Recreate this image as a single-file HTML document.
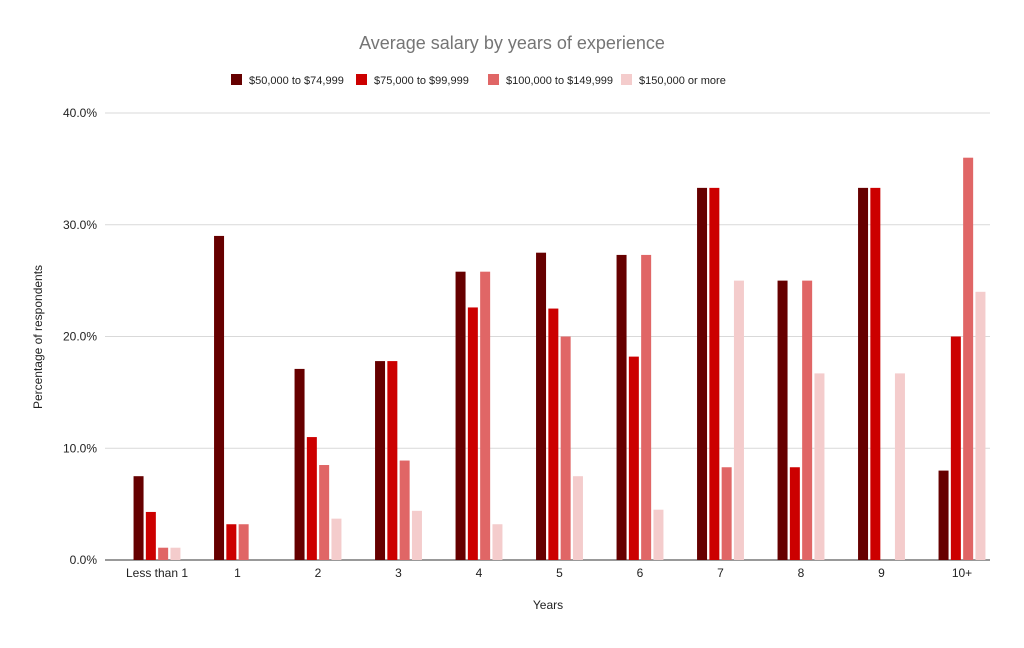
<!DOCTYPE html>
<html><head><meta charset="utf-8"><style>
body{margin:0;background:#fff;font-family:"Liberation Sans",Arial,sans-serif}
svg text{font-family:"Liberation Sans",Arial,sans-serif}
</style></head><body>
<svg id="chart" width="1024" height="643">
<text x="512" y="49" text-anchor="middle" font-size="18" fill="#757575">Average salary by years of experience</text>
<g id="legend"></g>
<g id="grid"></g>
<g id="bars"></g>
<g id="xlabels"></g>
<text x="548" y="609" text-anchor="middle" font-size="12" fill="#222">Years</text>
<text transform="translate(42,337) rotate(-90)" text-anchor="middle" font-size="12" fill="#222">Percentage of respondents</text>
</svg>
<script>
const categories=["Less than 1","1","2","3","4","5","6","7","8","9","10+"];
const seriesNames=["$50,000 to $74,999","$75,000 to $99,999","$100,000 to $149,999","$150,000 or more"];
const s1=[7.5,29,17.1,17.8,25.8,27.5,27.3,33.3,25,33.3,8];
const s2=[4.3,3.2,11,17.8,22.6,22.5,18.2,33.3,8.3,33.3,20];
const s3=[1.1,3.2,8.5,8.9,25.8,20,27.3,8.3,25,0,36];
const s4=[1.1,0,3.7,4.4,3.2,7.5,4.5,25,16.7,16.7,24];
const yTicks=[0,10,20,30,40];
const colors=["#660000","#cc0000","#e06666","#f4cccc"];
const NS="http://www.w3.org/2000/svg";
const X0=105,X1=990,Y0=560,Y1=113,YMAX=40;
const y=v=>Y0-(v/YMAX)*(Y0-Y1);
const bw=80.5;
const xc=i=>157+bw*i;
function mk(t,a,p){const e=document.createElementNS(NS,t);for(const k in a)e.setAttribute(k,a[k]);p.appendChild(e);return e;}
const grid=document.getElementById('grid');
yTicks.forEach(t=>{
 const l=mk('line',{x1:X0,x2:X1,y1:y(t),y2:y(t),stroke:t===0?'#333':'#d9d9d9','stroke-width':1},grid);
 
 
 const tx=mk('text',{x:97,y:y(t)+4,'text-anchor':'end','font-size':12,fill:'#222'},grid);
 tx.textContent=t.toFixed(1)+'%';
 
 
});
const series=[s1,s2,s3,s4];
const bars=document.getElementById('bars');
const stride=12.3,w=10;
categories.forEach((c,i)=>{
 series.forEach((s,j)=>{
  const v=s[i];if(v<=0)return;
  const x=xc(i)-2*stride+j*stride+(stride-w)/2;
  const r=mk('rect',{x:x,y:y(v),width:w,height:Y0-y(v),fill:colors[j]},bars);
  
  
 });
 const t=mk('text',{x:xc(i),y:577,'text-anchor':'middle','font-size':12,fill:'#222'},document.getElementById('xlabels'));
 t.textContent=c;
 
 
});
const lg=document.getElementById('legend');
const lx=[231,356,488,621];
seriesNames.forEach((n,j)=>{
 const r=mk('rect',{x:lx[j],y:74,width:11,height:11,fill:colors[j]},lg);
 
 
 const t=mk('text',{x:lx[j]+18,y:84,'font-size':11,fill:'#222'},lg);
 t.textContent=n;
 
 
});
</script>
</body></html>
